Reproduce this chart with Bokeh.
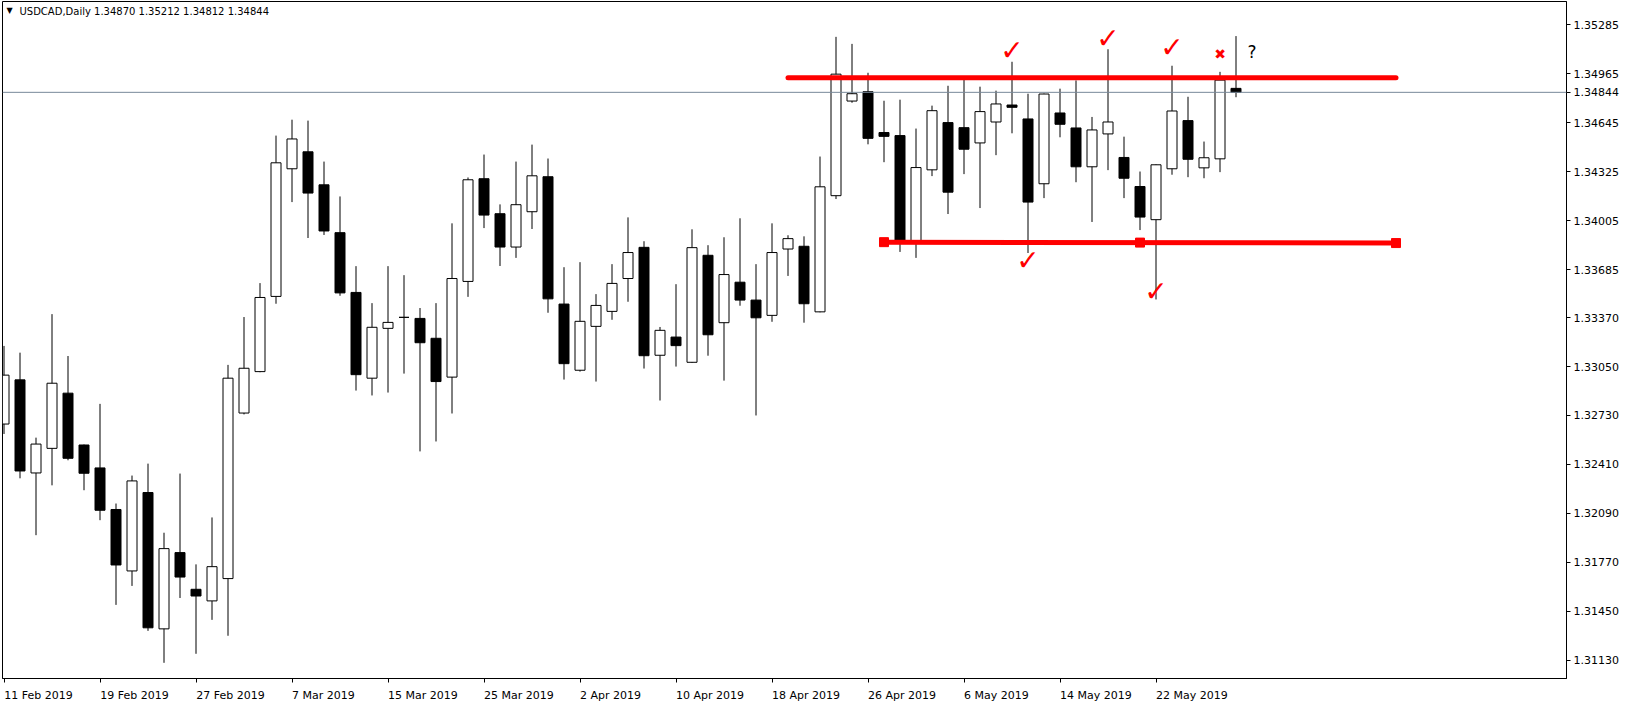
import numpy as np
from bokeh.plotting import figure
from bokeh.models import (FixedTicker, Label, Span, ColumnDataSource, Range1d,
                          PrintfTickFormatter, CustomJSTickFormatter)
from bokeh.core.properties import value
from bokeh.embed import file_html
from bokeh.resources import INLINE

# ---------------- data ----------------
chart_title = "USDCAD,Daily  1.34870 1.35212 1.34812 1.34844"

opens = [1.32674, 1.32963, 1.32354, 1.32515, 1.32876, 1.32537, 1.32387, 1.32115, 1.31713, 1.32226,
         1.31334, 1.31833, 1.31593, 1.31517, 1.31663, 1.32746, 1.33017, 1.33509, 1.34344, 1.34455,
         1.34239, 1.33926, 1.33535, 1.32974, 1.33300, 1.33372, 1.33365, 1.33235, 1.32981, 1.33607,
         1.34279, 1.34050, 1.33832, 1.34063, 1.34292, 1.33459, 1.33026, 1.33313, 1.33411, 1.33626,
         1.33830, 1.33124, 1.33243, 1.33078, 1.33778, 1.33337, 1.33602, 1.33485, 1.33385, 1.33819,
         1.33837, 1.33408, 1.34168, 1.34787, 1.34848, 1.34581, 1.34561, 1.33868, 1.34337, 1.34646,
         1.34613, 1.34513, 1.34650, 1.34761, 1.34670, 1.34246, 1.34709, 1.34611, 1.34357, 1.34572,
         1.34418, 1.34228, 1.34011, 1.34344, 1.34659, 1.34350, 1.34409, 1.34870]

highs = [1.33185, 1.33141, 1.32585, 1.33393, 1.33119, 1.32540, 1.32806, 1.32154, 1.32337, 1.32415,
         1.31963, 1.32350, 1.31756, 1.32063, 1.33061, 1.33374, 1.33596, 1.34561, 1.34665, 1.34659,
         1.34391, 1.34163, 1.33707, 1.33465, 1.33707, 1.33648, 1.33433, 1.33465, 1.33987, 1.34287,
         1.34437, 1.34111, 1.34391, 1.34502, 1.34411, 1.33700, 1.33733, 1.33524, 1.33720, 1.34026,
         1.33870, 1.33309, 1.33589, 1.33948, 1.33844, 1.33896, 1.34020, 1.33720, 1.33987, 1.33909,
         1.33902, 1.34424, 1.35207, 1.35161, 1.34972, 1.34789, 1.34796, 1.34607, 1.34757, 1.34887,
         1.34933, 1.34881, 1.34855, 1.35044, 1.34835, 1.34836, 1.34868, 1.34922, 1.34683, 1.35126,
         1.34554, 1.34326, 1.34373, 1.35018, 1.34815, 1.34522, 1.34978, 1.35212]

lows = [1.32609, 1.32319, 1.31947, 1.32273, 1.32437, 1.32241, 1.32045, 1.31491, 1.31615, 1.31321,
        1.31112, 1.31536, 1.31171, 1.31393, 1.31289, 1.32737, 1.33013, 1.33461, 1.34126, 1.33891,
        1.33911, 1.33513, 1.32893, 1.32861, 1.32880, 1.33004, 1.32495, 1.32560, 1.32743, 1.33506,
        1.33956, 1.33708, 1.33761, 1.33950, 1.33402, 1.32965, 1.33017, 1.32952, 1.33356, 1.33474,
        1.33037, 1.32828, 1.33050, 1.33075, 1.33121, 1.32958, 1.33448, 1.32730, 1.33343, 1.33643,
        1.33337, 1.33405, 1.34146, 1.34776, 1.34504, 1.34387, 1.33800, 1.33761, 1.34296, 1.34048,
        1.34309, 1.34087, 1.34433, 1.34576, 1.33793, 1.34152, 1.34550, 1.34256, 1.33996, 1.34335,
        1.34152, 1.33943, 1.33489, 1.34305, 1.34289, 1.34282, 1.34322, 1.34812]

closes = [1.32994, 1.32367, 1.32543, 1.32941, 1.32450, 1.32352, 1.32110, 1.31752, 1.32302, 1.31341,
          1.31859, 1.31673, 1.31549, 1.31741, 1.32974, 1.33039, 1.33502, 1.34383, 1.34539, 1.34185,
          1.33937, 1.33532, 1.32997, 1.33307, 1.33339, 1.33372, 1.33206, 1.32952, 1.33626, 1.34272,
          1.34041, 1.33832, 1.34109, 1.34298, 1.33493, 1.33069, 1.33346, 1.33450, 1.33594, 1.33796,
          1.33121, 1.33287, 1.33187, 1.33828, 1.33258, 1.33652, 1.33485, 1.33369, 1.33796, 1.33887,
          1.33461, 1.34226, 1.34963, 1.34835, 1.34543, 1.34556, 1.33876, 1.34352, 1.34724, 1.34191,
          1.34472, 1.34718, 1.34768, 1.34746, 1.34126, 1.34833, 1.34635, 1.34357, 1.34598, 1.34650,
          1.34282, 1.34028, 1.34370, 1.34722, 1.34406, 1.34416, 1.34924, 1.34844]

date_tick_bars = [0, 6, 12, 18, 24, 30, 36, 42, 48, 54, 60, 66, 72]
date_tick_labels = ["11 Feb 2019", "19 Feb 2019", "27 Feb 2019", "7 Mar 2019", "15 Mar 2019",
                    "25 Mar 2019", "2 Apr 2019", "10 Apr 2019", "18 Apr 2019", "26 Apr 2019",
                    "6 May 2019", "14 May 2019", "22 May 2019"]

price_ticks = [1.35285, 1.34965, 1.34645, 1.34325, 1.34005, 1.33685, 1.33370,
               1.33050, 1.32730, 1.32410, 1.32090, 1.31770, 1.31450, 1.31130]

last_price = 1.34844

# hand-drawn objects (bar index, price)
resistance_bars = [49, 87]
resistance_prices = [1.34940, 1.34940]
support_bars = [55, 87]
support_prices = [1.33864, 1.33858]
support_handle_bars = [55, 71, 87]
support_handle_prices = [1.33864, 1.33861, 1.33858]

check_bars = [63, 69, 73, 64, 72]
check_prices = [1.35119, 1.35197, 1.35138, 1.33742, 1.33540]
cross_bar, cross_price = 76, 1.35097
question_bar, question_price = 78, 1.35106

assert len(opens) == len(highs) == len(lows) == len(closes)

# ---------------- geometry (reference pixel scale) ----------------
W, H = 1630, 704
FRAME_L, FRAME_T, FRAME_R, FRAME_B = 2, 1, 1566, 680
BAR0_PX = 3.5       # page x of first bar centre
BAR_PX = 16.0       # pixels per bar
P_REF, P_REF_PX = 1.35285, 24.5
PX_PER_UNIT = 15331.0


def px_to_bar(px):
    return (px - BAR0_PX) / BAR_PX


def py_to_price(py):
    return P_REF - (py - P_REF_PX) / PX_PER_UNIT


FONT = "DejaVu Sans"
FS = 11
# DejaVu Sans advance widths (em) used to left-align the date labels at their ticks
ADV = {" ": 0.318, "F": 0.575, "e": 0.615, "b": 0.635, "M": 0.863, "a": 0.613,
       "r": 0.411, "A": 0.684, "p": 0.635, "y": 0.592}


def text_w(s):
    return sum(ADV.get(ch, 0.636) for ch in s) * FS


p = figure(width=W, height=H,
           x_range=Range1d(px_to_bar(FRAME_L), px_to_bar(FRAME_R)),
           y_range=Range1d(py_to_price(FRAME_B), py_to_price(FRAME_T)),
           y_axis_location="right", output_backend="svg", toolbar_location=None,
           min_border_left=FRAME_L, min_border_top=FRAME_T,
           min_border_right=W - FRAME_R, min_border_bottom=H - FRAME_B)
p.grid.visible = False
p.outline_line_color = "black"
p.outline_line_width = 1
p.background_fill_color = "white"
p.border_fill_color = "white"

# y axis (the last price is labelled on the axis too)
ya = p.yaxis[0]
ya.ticker = FixedTicker(ticks=price_ticks + [last_price])
ya.formatter = PrintfTickFormatter(format="%.5f")
ya.major_label_text_font = FONT
ya.major_label_text_font_size = f"{FS}px"
ya.major_label_text_color = "black"
ya.major_tick_out = 4
ya.major_tick_in = 0
ya.minor_tick_out = 0
ya.minor_tick_in = 0
ya.major_label_standoff = 3
ya.axis_line_color = "black"
ya.major_tick_line_color = "black"

# x axis: minor ticks mark the dates, labels are centred so that they start at the tick
label_centres = [b + text_w(s) / 2 / BAR_PX for b, s in zip(date_tick_bars, date_tick_labels)]
xa = p.xaxis[0]
xa.ticker = FixedTicker(ticks=label_centres, minor_ticks=date_tick_bars)
xa.formatter = CustomJSTickFormatter(args=dict(centres=label_centres, labels=date_tick_labels), code="""
let best = 0, bd = Infinity;
for (let i = 0; i < centres.length; i++) {
  const d = Math.abs(centres[i] - tick);
  if (d < bd) { bd = d; best = i; }
}
return labels[best];
""")
xa.major_label_text_font = FONT
xa.major_label_text_font_size = f"{FS}px"
xa.major_label_text_color = "black"
xa.major_label_standoff = 6
xa.major_tick_out = 0
xa.major_tick_in = 0
xa.major_tick_line_color = None
xa.minor_tick_out = 4
xa.minor_tick_in = 0
xa.minor_tick_line_color = "black"
xa.axis_line_color = "black"

idx = np.arange(len(opens))
o = np.array(opens)
c = np.array(closes)
up = c >= o

src = ColumnDataSource(dict(x=idx, high=highs, low=lows))
p.segment(x0="x", y0="low", x1="x", y1="high", source=src, line_color="black", line_width=1)

up_src = ColumnDataSource(dict(x=idx[up], top=np.maximum(o, c)[up], bottom=np.minimum(o, c)[up]))
dn_src = ColumnDataSource(dict(x=idx[~up], top=np.maximum(o, c)[~up], bottom=np.minimum(o, c)[~up]))
body_w = 10.0 / BAR_PX
p.vbar(x="x", top="top", bottom="bottom", width=body_w, source=up_src,
       fill_color="white", line_color="black", line_width=1)
p.vbar(x="x", top="top", bottom="bottom", width=body_w, source=dn_src,
       fill_color="black", line_color="black", line_width=1)

# current price line
p.add_layout(Span(location=last_price, dimension="width", line_color="#778899", line_width=1))

# trend lines
p.line(resistance_bars, resistance_prices, line_color="#FF0000", line_width=5, line_cap="round")
p.line(support_bars, support_prices, line_color="#FF0000", line_width=5)
p.scatter(support_handle_bars, support_handle_prices, marker="square", size=9,
          fill_color="#FF0000", line_color="#FF0000")

# marks
p.text(x=check_bars, y=check_prices, text=["\u2713"] * len(check_bars),
       text_font=value(FONT), text_font_size="28px", text_font_style="bold",
       text_color="#FF0000", text_align="center", text_baseline="middle")
p.text(x=[cross_bar], y=[cross_price], text=["\u2716"], text_font=value(FONT),
       text_font_size="14px", text_color="#FF0000", text_align="center", text_baseline="middle")
p.text(x=[question_bar], y=[question_price], text=["?"], text_font=value(FONT),
       text_font_size="17px", text_color="black", text_align="center", text_baseline="middle")

# title in the top-left corner
p.add_layout(Label(x=px_to_bar(9), y=py_to_price(10), text="\u25BC", text_font=FONT,
                   text_font_size="8px", text_color="black", text_align="center",
                   text_baseline="middle"))
p.add_layout(Label(x=px_to_bar(19), y=py_to_price(11), text=chart_title, text_font=FONT,
                   text_font_size="10px", text_color="black", text_align="left",
                   text_baseline="middle"))

open("out.html", "w").write(file_html(p, INLINE))
